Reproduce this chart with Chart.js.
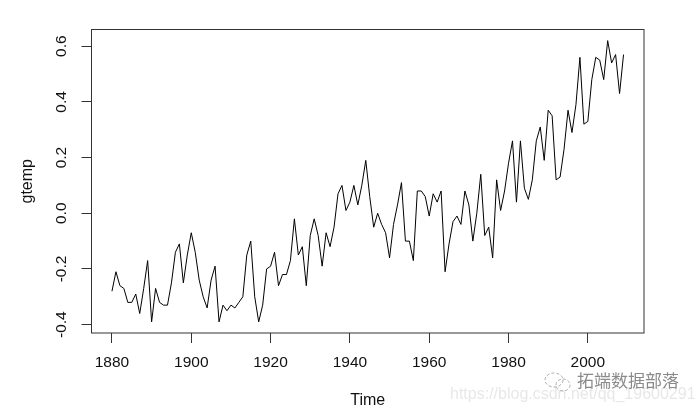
<!DOCTYPE html>
<html>
<head>
<meta charset="utf-8">
<title>gtemp</title>
<script src="https://cdn.jsdelivr.net/npm/chart.js@4"></script>
<style>
  body { margin: 0; background: #fff; }
  #wrap { position: relative; width: 700px; height: 411px; overflow: hidden; }
  .mark { position: absolute; white-space: nowrap; font-family: "Liberation Sans", sans-serif; }
  #markUrl { left: 450px; top: 385px; font-size: 16px; color: rgba(120,120,120,0.18); }
  #markName { left: 577px; top: 367px; font-size: 17px; color: #8a8a8a; font-family: "Noto Sans CJK SC"; }
  #markIcon { position: absolute; left: 543px; top: 370px; }
</style>
</head>
<body>
<div id="wrap">
  <canvas id="chartTemp" width="700" height="411"></canvas>
  <span class="mark" id="markUrl">https://blog.csdn.net/qq_19600291</span>
  <svg id="markIcon" width="30" height="24" fill="none" stroke="#aaa" stroke-width="1" stroke-dasharray="3 2">
    <ellipse cx="11" cy="10" rx="9" ry="7"/>
    <ellipse cx="20" cy="15" rx="7" ry="6"/>
  </svg>
  <span class="mark" id="markName">拓端数据部落</span>
</div>
<script>
const years = [
  1880, 1881, 1882, 1883, 1884, 1885, 1886, 1887, 1888, 1889,
  1890, 1891, 1892, 1893, 1894, 1895, 1896, 1897, 1898, 1899,
  1900, 1901, 1902, 1903, 1904, 1905, 1906, 1907, 1908, 1909,
  1910, 1911, 1912, 1913, 1914, 1915, 1916, 1917, 1918, 1919,
  1920, 1921, 1922, 1923, 1924, 1925, 1926, 1927, 1928, 1929,
  1930, 1931, 1932, 1933, 1934, 1935, 1936, 1937, 1938, 1939,
  1940, 1941, 1942, 1943, 1944, 1945, 1946, 1947, 1948, 1949,
  1950, 1951, 1952, 1953, 1954, 1955, 1956, 1957, 1958, 1959,
  1960, 1961, 1962, 1963, 1964, 1965, 1966, 1967, 1968, 1969,
  1970, 1971, 1972, 1973, 1974, 1975, 1976, 1977, 1978, 1979,
  1980, 1981, 1982, 1983, 1984, 1985, 1986, 1987, 1988, 1989,
  1990, 1991, 1992, 1993, 1994, 1995, 1996, 1997, 1998, 1999,
  2000, 2001, 2002, 2003, 2004, 2005, 2006, 2007, 2008, 2009
];
const gtemp = [
  -0.28, -0.21, -0.26, -0.27, -0.32, -0.32, -0.29, -0.36, -0.27, -0.17,
  -0.39, -0.27, -0.32, -0.33, -0.33, -0.25, -0.14, -0.11, -0.25, -0.15,
  -0.07, -0.14, -0.24, -0.30, -0.34, -0.24, -0.19, -0.39, -0.33, -0.35,
  -0.33, -0.34, -0.32, -0.30, -0.15, -0.10, -0.30, -0.39, -0.33, -0.20,
  -0.19, -0.14, -0.26, -0.22, -0.22, -0.17, -0.02, -0.15, -0.12, -0.26,
  -0.08, -0.02, -0.08, -0.19, -0.07, -0.12, -0.05, 0.07, 0.10, 0.01,
  0.04, 0.10, 0.03, 0.10, 0.19, 0.06, -0.05, 0.00, -0.04, -0.07,
  -0.16, -0.04, 0.03, 0.11, -0.10, -0.10, -0.17, 0.08, 0.08, 0.06,
  -0.01, 0.07, 0.04, 0.08, -0.21, -0.11, -0.03, -0.01, -0.04, 0.08,
  0.03, -0.10, 0.00, 0.14, -0.08, -0.05, -0.16, 0.12, 0.01, 0.08,
  0.18, 0.26, 0.04, 0.26, 0.09, 0.05, 0.12, 0.26, 0.31, 0.19,
  0.37, 0.35, 0.12, 0.13, 0.23, 0.37, 0.29, 0.39, 0.56, 0.32,
  0.33, 0.48, 0.56, 0.55, 0.48, 0.62, 0.54, 0.57, 0.43, 0.57
];
const xTicks = [1880, 1900, 1920, 1940, 1960, 1980, 2000];
const yTicks = [-0.4, -0.2, 0.0, 0.2, 0.4, 0.6];

const TICK_FONT = { family: '"Liberation Sans", Arial, sans-serif', size: 15.5 };
const TITLE_FONT = { family: '"Liberation Sans", Arial, sans-serif', size: 16 };
const AXIS_COLOR = '#333';

// R style box around the plot region
const plotBox = {
  id: 'plotBox',
  afterDraw(chart) {
    const { ctx, chartArea: a } = chart;
    ctx.save();
    ctx.strokeStyle = AXIS_COLOR;
    ctx.lineWidth = 1;
    ctx.strokeRect(a.left, a.top, a.right - a.left, a.bottom - a.top);
    ctx.restore();
  }
};

new Chart(document.getElementById('chartTemp').getContext('2d'), {
  type: 'line',
  data: {
    datasets: [{
      data: years.map((y, i) => ({ x: y, y: gtemp[i] })),
      borderColor: '#000',
      borderWidth: 1,
      pointRadius: 0,
      tension: 0,
      fill: false
    }]
  },
  options: {
    responsive: false,
    animation: false,
    layout: { padding: { top: 29.5, right: 56, left: 0, bottom: 0 } },
    plugins: { legend: { display: false }, tooltip: { enabled: false } },
    scales: {
      x: {
        type: 'linear',
        min: 1874.84,
        max: 2014.16,
        afterFit(scale) { scale.height = 78; },
        afterBuildTicks(scale) { scale.ticks = xTicks.map(v => ({ value: v })); },
        grid: { drawOnChartArea: false, tickLength: 10, tickColor: AXIS_COLOR, color: AXIS_COLOR },
        border: { display: false },
        ticks: {
          color: '#111', font: TICK_FONT, padding: 10, maxRotation: 0, autoSkip: false,
          callback: v => String(v)
        },
        title: { display: true, text: 'Time', color: '#111', font: TITLE_FONT, padding: { top: 0, bottom: 1 } }
      },
      y: {
        type: 'linear',
        min: -0.43,
        max: 0.66,
        afterFit(scale) { scale.width = 91.5; },
        afterBuildTicks(scale) { scale.ticks = yTicks.map(v => ({ value: v })); },
        grid: { drawOnChartArea: false, tickLength: 10, tickColor: AXIS_COLOR, color: AXIS_COLOR },
        border: { display: false },
        ticks: {
          color: '#111', font: TICK_FONT, padding: 6, minRotation: 90, maxRotation: 90, autoSkip: false,
          crossAlign: 'center',
          callback: v => v.toFixed(1)
        },
        title: { display: true, text: 'gtemp', color: '#111', font: TITLE_FONT, padding: { top: 18, bottom: 0 } }
      }
    }
  },
  plugins: [plotBox]
});
</script>
</body>
</html>
